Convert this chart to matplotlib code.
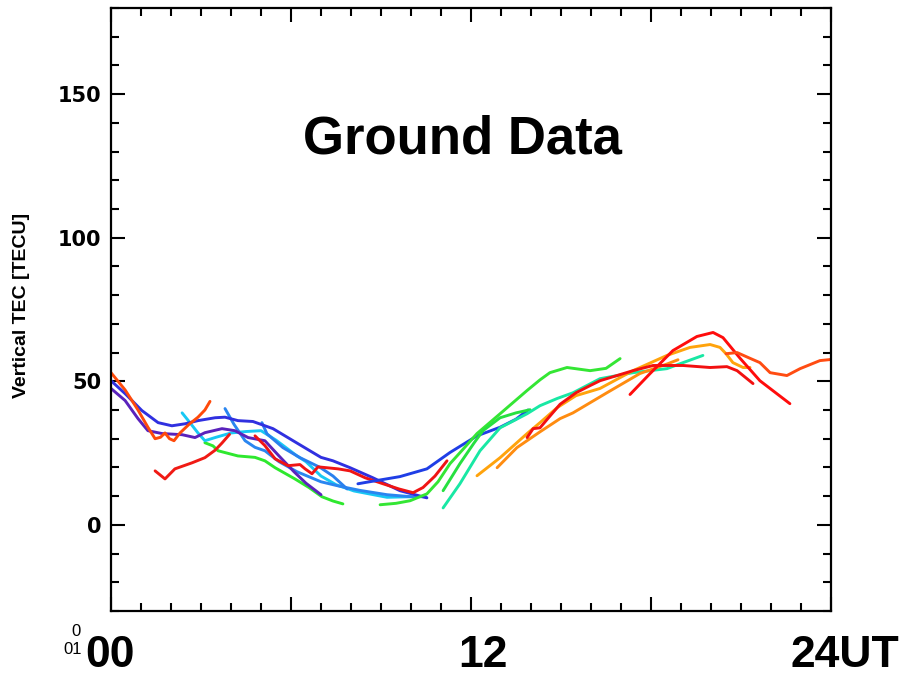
#-------------------------------------------------------------------------------
# IMPORTS
#-------------------------------------------------------------------------------

import numpy as np
import matplotlib
matplotlib.use('Agg')
import matplotlib.pyplot as plt
from matplotlib.ticker import MultipleLocator, NullFormatter

#-------------------------------------------------------------------------------
# DATA (UT hour, vertical TEC)
#-------------------------------------------------------------------------------

orangered_1 = [(0.0, 53.0), (0.47, 47.0), (0.9, 40.0), (1.23, 34.0), (1.47, 30.0),
               (1.65, 30.5), (1.8, 32.0), (1.95, 30.0), (2.1, 29.3), (2.3, 32.0),
               (2.6, 35.0), (2.9, 37.5), (3.13, 40.0), (3.3, 43.0)]
blue_1 = [(0.0, 50.2), (0.47, 45.7), (1.03, 39.8), (1.57, 35.6), (2.03, 34.5),
          (2.47, 35.2), (2.9, 36.3), (3.47, 37.3), (3.8, 37.5), (4.23, 36.3),
          (4.73, 36.0), (5.4, 33.5), (6.07, 29.3), (6.63, 25.8), (7.0, 23.5),
          (7.4, 22.3), (7.97, 19.9), (8.73, 16.4), (9.63, 11.9), (10.53, 9.4)]
purple_1 = [(0.0, 47.5), (0.47, 43.3), (0.9, 37.0), (1.23, 32.8), (1.7, 31.8),
            (2.37, 31.4), (2.8, 30.4), (3.13, 32.1), (3.7, 33.5), (4.13, 32.8),
            (4.57, 30.4), (5.13, 29.3), (5.6, 24.0), (6.1, 18.5), (6.5, 14.5),
            (7.0, 10.5)]
red_1 = [(1.47, 18.8), (1.8, 16.0), (2.13, 19.5), (2.7, 21.6), (3.13, 23.4),
         (3.47, 26.0), (3.7, 28.5), (3.95, 31.5)]
cyan_1 = [(2.37, 39.0), (2.6, 36.0), (2.9, 32.0), (3.13, 29.3), (3.5, 30.5),
          (4.0, 32.0), (4.5, 32.5), (5.0, 32.8), (5.5, 29.5), (6.2, 24.0),
          (6.5, 22.0), (7.0, 17.0), (7.5, 14.0), (8.1, 11.8), (9.2, 9.6),
          (10.0, 9.8)]
dodger_1 = [(3.8, 40.5), (4.1, 35.0), (4.47, 29.3), (4.8, 27.0), (5.13, 25.8),
            (5.6, 22.0), (6.2, 18.5), (7.0, 15.0), (7.6, 13.5), (8.3, 12.0),
            (9.2, 10.5), (10.0, 9.8), (10.5, 9.8)]
dodger_2 = [(5.03, 35.6), (5.2, 31.7), (5.73, 26.9), (6.3, 23.4), (6.97, 20.0),
            (7.4, 17.0), (7.87, 12.5)]
green_1 = [(3.13, 28.6), (3.4, 27.5), (3.57, 25.8), (4.23, 24.0), (4.8, 23.5),
           (5.13, 22.3), (5.47, 19.9), (6.13, 16.0), (6.6, 13.0), (7.03, 9.8),
           (7.4, 8.3), (7.73, 7.3)]
red_2 = [(4.8, 31.0), (5.13, 27.6), (5.47, 23.0), (5.9, 20.6), (6.3, 21.0),
         (6.47, 19.5), (6.7, 17.8), (6.9, 20.2), (7.57, 19.5), (7.97, 18.8),
         (8.47, 16.4), (9.07, 14.3), (9.6, 12.5), (10.07, 11.2), (10.4, 13.0),
         (10.8, 17.0), (11.2, 22.3)]
blue_2 = [(8.23, 14.3), (8.5, 14.8), (9.63, 16.8), (10.53, 19.5), (11.3, 25.2),
          (12.2, 31.0), (12.97, 34.0), (13.5, 36.8), (13.9, 40.0)]
green_2 = [(8.97, 7.0), (9.5, 7.5), (9.97, 8.4), (10.53, 10.8), (10.9, 15.0),
           (11.3, 21.3), (11.75, 26.5), (12.2, 31.8), (12.97, 38.7), (13.87, 46.8),
           (14.3, 50.5), (14.63, 53.0), (15.2, 54.8), (15.97, 53.7), (16.5, 54.5),
           (16.97, 57.9)]
green_3 = [(11.07, 11.9), (11.63, 21.3), (12.1, 28.5), (12.4, 32.8), (12.97, 37.3),
           (13.5, 39.0), (13.97, 40.1)]
teal_1 = [(11.07, 5.9), (11.63, 14.3), (12.3, 25.8), (12.97, 33.8), (13.87, 38.7),
          (14.3, 41.5), (14.87, 44.0), (15.4, 46.0), (16.3, 50.9), (17.4, 53.0),
          (18.53, 54.4), (19.07, 56.5), (19.73, 59.0)]
orange_1 = [(12.2, 17.1), (12.97, 23.4), (13.87, 31.8), (14.3, 35.6), (14.87, 40.8),
            (15.5, 45.0), (16.3, 47.5), (17.4, 53.7), (18.53, 59.0), (19.3, 61.8),
            (19.97, 62.8), (20.3, 61.8), (20.5, 59.6), (20.73, 56.5), (21.07, 54.8),
            (21.3, 54.8)]
orange_2 = [(12.87, 19.9), (13.53, 26.9), (14.3, 32.4), (14.97, 37.0), (15.4, 39.0),
            (16.53, 46.0), (17.63, 52.7), (18.53, 56.0), (18.9, 57.5)]
red_3 = [(13.87, 30.4), (14.07, 33.5), (14.3, 33.8), (14.6, 37.5), (14.97, 42.0),
         (15.5, 46.0), (15.97, 48.5), (16.3, 50.2), (17.4, 53.7), (18.07, 55.5),
         (19.07, 55.5), (19.97, 54.8), (20.53, 55.1), (20.87, 53.7), (21.4, 49.2)]
red_4 = [(17.3, 45.4), (17.97, 52.7), (18.73, 60.7), (19.53, 65.6), (20.07, 67.0),
         (20.4, 65.2), (20.97, 58.0), (21.63, 50.2), (22.63, 42.2)]
orangered_2 = [(20.5, 59.6), (20.87, 60.0), (21.3, 58.0), (21.63, 56.5), (21.97, 53.0),
               (22.53, 52.0), (22.97, 54.4), (23.63, 57.2), (24.0, 57.6)]

curves = [
    (green_1, '#2ee82e'), (cyan_1, '#18c8f4'), (dodger_1, '#2a86f0'),
    (dodger_2, '#2a80ee'), (purple_1, '#5a22bc'), (blue_1, '#3030e0'),
    (red_1, '#f01a14'), (orangered_1, '#ff4a0a'), (red_2, '#f01414'),
    (blue_2, '#1f3ee6'), (green_2, '#34e634'), (green_3, '#26e040'),
    (teal_1, '#18e8a4'), (orange_2, '#ff8c10'), (orange_1, '#ffa30c'),
    (red_3, '#f21010'), (red_4, '#ff0c0c'), (orangered_2, '#ff4c12'),
]

title = 'Ground Data'
ylab = 'Vertical TEC [TECU]'
xlabs = ['00', '12', '24UT']

#-------------------------------------------------------------------------------
# PLOT
#-------------------------------------------------------------------------------

fig = plt.figure(figsize=(9.02, 6.77), dpi=100)
ax = fig.add_axes([111/902, 1 - 611/677, 720/902, 603/677])

for pts, col in curves:
    arr = np.array(pts)
    ax.plot(arr[:, 0], arr[:, 1], color=col, lw=2.1, solid_capstyle='round',
            solid_joinstyle='round')

ax.set_xlim(0, 24)
ax.set_ylim(-30, 180)

ax.xaxis.set_major_locator(MultipleLocator(6))
ax.xaxis.set_minor_locator(MultipleLocator(1))
ax.yaxis.set_major_locator(MultipleLocator(50))
ax.yaxis.set_minor_locator(MultipleLocator(10))
ax.xaxis.set_major_formatter(NullFormatter())

ax.tick_params(which='both', direction='in', top=True, right=True, width=1.5,
               colors='black')
ax.tick_params(which='major', length=10)
ax.tick_params(which='minor', length=5.5)
ax.tick_params(axis='y', which='major', pad=7, labelsize=15)
for lab in ax.get_yticklabels():
    lab.set_fontweight('bold')

for sp in ax.spines.values():
    sp.set_linewidth(1.6)

ax.text(11.72, 129.4, title, ha='center', va='baseline', fontsize=38,
        fontweight='bold', family=['Liberation Sans', 'DejaVu Sans'])

fig.text(22/902, 1 - 305/677, ylab, rotation=90, ha='center', va='center',
         fontsize=14, fontweight='bold', family=['Liberation Sans', 'DejaVu Sans'])

# bottom time labels
narrow = ['Liberation Sans Narrow', 'Liberation Sans', 'DejaVu Sans']
fig.text(110/902, 1 - 667/677, xlabs[0], ha='center', va='baseline',
         fontsize=32, fontweight='bold', family=narrow)
fig.text(483/902, 1 - 667/677, xlabs[1], ha='center', va='baseline',
         fontsize=32, fontweight='bold', family=narrow)
fig.text(899/902, 1 - 667/677, xlabs[2], ha='right', va='baseline',
         fontsize=32, fontweight='bold', family=narrow)

# leftover small label in the corner
fig.text(76/902, 1 - 636/677, '0', ha='center', va='baseline', fontsize=12,
         family=['Liberation Sans', 'DejaVu Sans'])
fig.text(73/902, 1 - 654/677, '01', ha='center', va='baseline', fontsize=12,
         family=['Liberation Sans', 'DejaVu Sans'])

fig.savefig('out.png', dpi=100)
